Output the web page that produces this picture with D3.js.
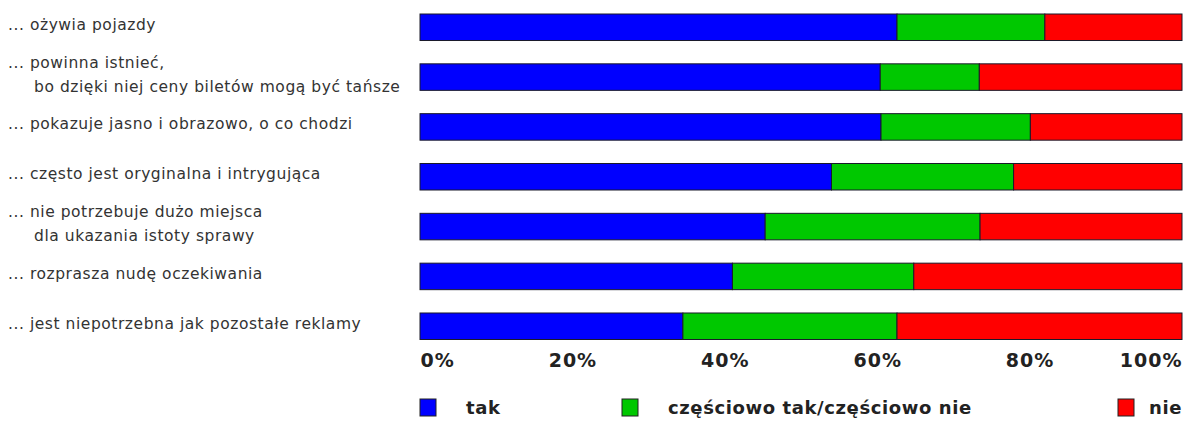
<!DOCTYPE html>
<html>
<head>
<meta charset="utf-8">
<script src="https://cdn.jsdelivr.net/npm/d3@7"></script>
<style>
  body { margin: 0; background: #fff; }
  svg { display: block; }
</style>
</head>
<body>
<div id="chart"></div>
<script>
// odpowiedzi w procentach, kolejnosc jak na wykresie
const categories = [
  ['... ożywia pojazdy'],
  ['... powinna istnieć,', 'bo dzięki niej ceny biletów mogą być tańsze'],
  ['... pokazuje jasno i obrazowo, o co chodzi'],
  ['... często jest oryginalna i intrygująca'],
  ['... nie potrzebuje dużo miejsca', 'dla ukazania istoty sprawy'],
  ['... rozprasza nudę oczekiwania'],
  ['... jest niepotrzebna jak pozostałe reklamy']
];
const tak = [62.6, 60.4, 60.5, 54.0, 45.3, 41.0, 34.5];
const czesciowo = [19.4, 13.0, 19.6, 23.9, 28.2, 23.8, 28.1];
const nie = [18.0, 26.6, 19.9, 22.1, 26.5, 35.2, 37.4];
const seriesNames = ['tak', 'częściowo tak/częściowo nie', 'nie'];
const tickValues = [0, 20, 40, 60, 80, 100];

const colors = ['#0000ff', '#00c800', '#ff0000'];
const width = 1183, height = 423;

const svg = d3.select('#chart')
  .append('svg')
  .attr('width', width)
  .attr('height', height);

const rows = categories.map((c, i) => ({ idx: i, label: c, tak: tak[i], czesciowo: czesciowo[i], nie: nie[i] }));
const stack = d3.stack().keys(['tak', 'czesciowo', 'nie'])(rows);

const x = d3.scaleLinear()
  .domain([0, 100])
  .range([420, 1182]);

const y = d3.scaleBand()
  .domain(d3.range(categories.length))
  .range([14, 339.5])
  .paddingInner(0.468)
  .paddingOuter(0);

// slupki
svg.append('g')
  .selectAll('g')
  .data(stack)
  .enter().append('g')
  .attr('fill', (d, i) => colors[i])
  .selectAll('rect')
  .data(d => d)
  .enter().append('rect')
  .attr('x', d => x(d[0]))
  .attr('y', d => y(d.data.idx))
  .attr('width', d => x(d[1]) - x(d[0]))
  .attr('height', y.bandwidth())
  .attr('stroke', '#1a1a2a')
  .attr('stroke-width', 1);

// etykiety kategorii
const labels = svg.append('g')
  .selectAll('text')
  .data(rows)
  .enter().append('text')
  .attr('font-family', 'DejaVu Sans, Verdana, sans-serif')
  .attr('font-size', 15.5)
  .attr('letter-spacing', 0.55)
  .attr('fill', '#333')
  .attr('y', d => y(d.idx) + y.bandwidth() / 2 - 3 - (d.label.length - 1) * 12);

labels.selectAll('tspan')
  .data(d => d.label)
  .enter().append('tspan')
  .attr('x', (d, i) => i === 0 ? 8 : 34)
  .attr('dy', (d, i) => i === 0 ? '0.35em' : 24)
  .text(d => d);

// os X
const axis = svg.append('g')
  .attr('transform', 'translate(0,340)')
  .call(d3.axisBottom(x)
    .tickValues(tickValues)
    .tickFormat(d => d + '%')
    .tickSize(0)
    .tickPadding(14));

axis.select('.domain').remove();
axis.selectAll('text')
  .attr('font-family', 'DejaVu Sans, Verdana, sans-serif')
  .attr('font-size', 19)
  .attr('font-weight', 'bold')
  .attr('letter-spacing', 1)
  .attr('fill', '#222')
  .attr('text-anchor', (d, i) => i === 0 ? 'start' : (i === tickValues.length - 1 ? 'end' : 'middle'));

// legenda
const legendX = [420, 622, 1118];
const legend = svg.append('g')
  .selectAll('g')
  .data(seriesNames)
  .enter().append('g')
  .attr('transform', (d, i) => 'translate(' + legendX[i] + ',399)');

legend.append('rect')
  .attr('width', 16)
  .attr('height', 17)
  .attr('fill', (d, i) => colors[i])
  .attr('stroke', '#222')
  .attr('stroke-width', 1);

legend.append('text')
  .attr('x', (d, i) => i === seriesNames.length - 1 ? 64 : 46)
  .attr('y', 9)
  .attr('dy', '0.35em')
  .attr('text-anchor', (d, i) => i === seriesNames.length - 1 ? 'end' : 'start')
  .attr('font-family', 'DejaVu Sans, Verdana, sans-serif')
  .attr('font-size', 18)
  .attr('font-weight', 'bold')
  .attr('letter-spacing', 0.6)
  .attr('fill', '#222')
  .text(d => d);
</script>
</body>
</html>
